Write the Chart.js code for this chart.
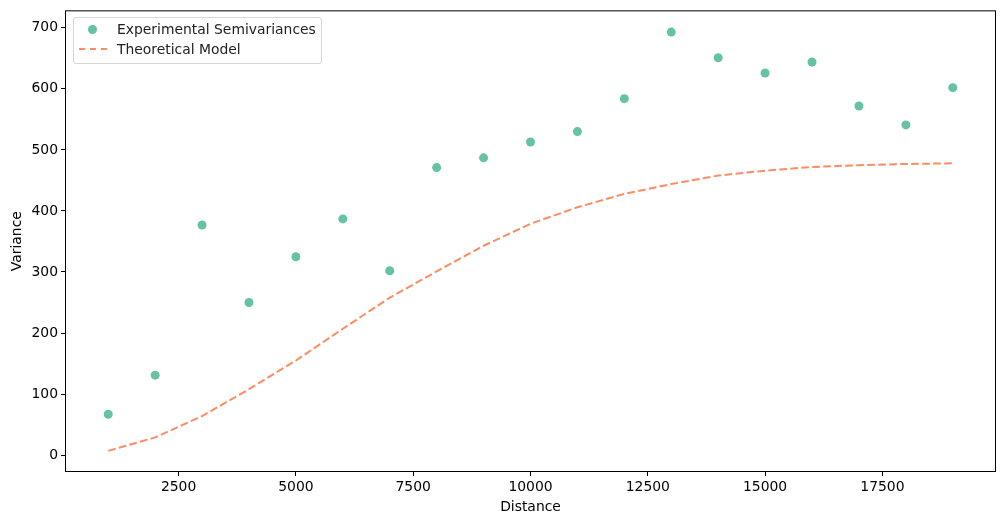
<!DOCTYPE html>
<html>
<head>
<meta charset="utf-8">
<script src="https://cdn.jsdelivr.net/npm/chart.js@4/dist/chart.umd.min.js"></script>
<style>
  body { margin: 0; background: #fff; }
  #wrap { position: relative; width: 1005px; height: 525px; }
  #legend {
    position: absolute; left: 73px; top: 17px; width: 247px; height: 45px;
    border: 1px solid #d6d6d6; border-radius: 3px; background: rgba(255,255,255,0.8);
    font-family: "DejaVu Sans", sans-serif; font-size: 13.9px; color: #222;
  }
  .row { position: absolute; left: 0; height: 20px; line-height: 20px; }
  .row span { position: absolute; left: 43px; white-space: nowrap; }
  .dot { position: absolute; left: 14px; top: 5.5px; width: 9px; height: 9px; border-radius: 50%; background: #66c2a5; }
  .dash { position: absolute; left: 5px; top: 9px; width: 28px; height: 0; border-top: 2px dashed #fc8d62; }
</style>
</head>
<body>
<div id="wrap">
  <canvas id="myChart" width="1005" height="525"></canvas>
  <div id="legend">
    <div class="row" style="top:1px"><div class="dot"></div><span>Experimental Semivariances</span></div>
    <div class="row" style="top:21px"><div class="dash"></div><span>Theoretical Model</span></div>
  </div>
</div>
<script>
const distances = [1000, 2000, 3000, 4000, 5000, 6000, 7000, 8000, 9000, 10000,
  11000, 12000, 13000, 14000, 15000, 16000, 17000, 18000, 19000];
const experimental = [67, 131, 377, 250, 325, 387, 302, 471, 487, 513,
  530, 584, 693, 651, 626, 644, 572, 541, 602];
const theoretical = [7, 29, 64, 108, 155, 207, 258, 301, 343, 379,
  406, 428, 444, 458, 466, 472, 475, 477, 478];
const xTicks = [2500, 5000, 7500, 10000, 12500, 15000, 17500];
const yTicks = [0, 100, 200, 300, 400, 500, 600, 700];

const font = { family: "DejaVu Sans", size: 13.9 };

// frame around the plot area, like matplotlib spines
const frame = {
  id: "frame",
  afterDraw(chart) {
    const a = chart.chartArea;
    const c = chart.ctx;
    c.save();
    c.strokeStyle = "#000";
    c.lineWidth = 1;
    c.strokeRect(a.left - 0.5, a.top - 0.5, a.right - a.left + 1, a.bottom - a.top + 1);
    c.restore();
  },
};

const ctx = document.getElementById("myChart");

new Chart(ctx, {
  type: "scatter",
  data: {
    datasets: [
      {
        label: "Experimental Semivariances",
        data: distances.map((d, i) => ({ x: d, y: experimental[i] })),
        backgroundColor: "#66c2a5",
        borderWidth: 0,
        pointRadius: 4.5,
        pointHoverRadius: 4.5,
        order: 1,
      },
      {
        label: "Theoretical Model",
        type: "line",
        data: distances.map((d, i) => ({ x: d, y: theoretical[i] })),
        borderColor: "#fc8d62",
        borderWidth: 2,
        borderDash: [7.7, 3.3],
        pointRadius: 0,
        fill: false,
        tension: 0,
        order: 2,
      },
    ],
  },
  options: {
    responsive: false,
    animation: false,
    layout: { padding: { top: 11, right: 10, left: 0, bottom: 0 } },
    plugins: { legend: { display: false }, tooltip: { enabled: false } },
    scales: {
      x: {
        type: "linear",
        min: 100,
        max: 19900,
        afterBuildTicks: (s) => { s.ticks = xTicks.map((v) => ({ value: v })); },
        afterFit: (s) => { s.height = 54; },
        grid: { drawOnChartArea: false, drawTicks: true, tickLength: 5, color: "#000", tickWidth: 1 },
        border: { display: false },
        ticks: { color: "#000", font: font, padding: 3, maxRotation: 0, callback: (v) => String(v) },
        title: { display: true, text: "Distance", color: "#000", font: font, padding: { top: 0, bottom: 9 } },
      },
      y: {
        type: "linear",
        min: -26,
        max: 727,
        afterBuildTicks: (s) => { s.ticks = yTicks.map((v) => ({ value: v })); },
        afterFit: (s) => { s.width = 66; },
        grid: { drawOnChartArea: false, drawTicks: true, tickLength: 5, color: "#000", tickWidth: 1 },
        border: { display: false },
        ticks: { color: "#000", font: font, padding: 3, callback: (v) => String(v) },
        title: { display: true, text: "Variance", color: "#000", font: font, padding: { top: 9, bottom: 0 } },
      },
    },
  },
  plugins: [frame],
});
</script>
</body>
</html>
